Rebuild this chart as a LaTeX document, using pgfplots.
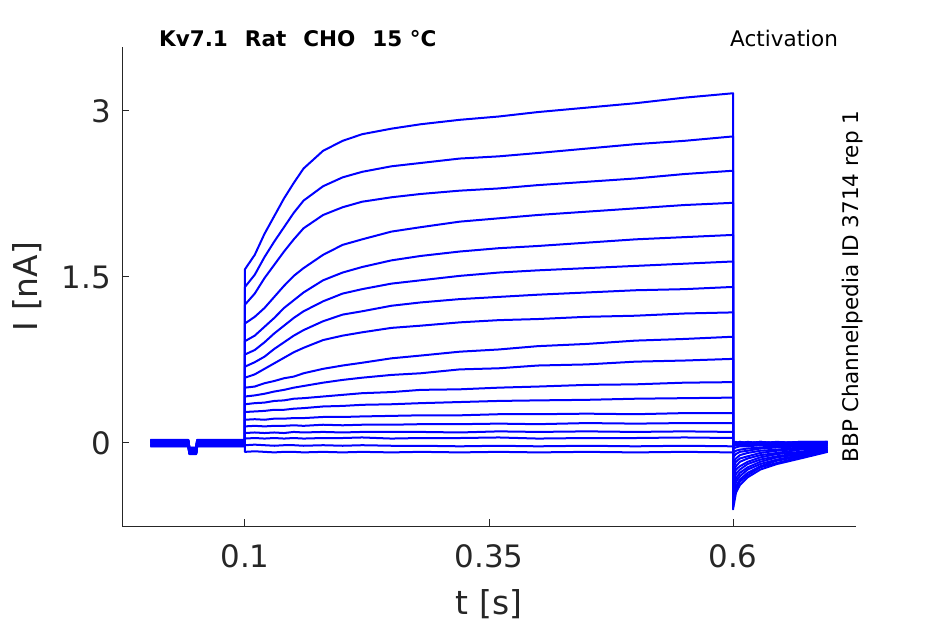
\documentclass[border=0pt]{standalone}
\usepackage{fontspec}
\setmainfont{DejaVu Sans}
\usepackage{pgfplots}
\usepackage{pgfplotstable}
\pgfplotsset{compat=1.18}
\definecolor{axgray}{RGB}{38,38,38}
\definecolor{trblue}{RGB}{0,0,255}

\pgfplotstableread{
t c1 c2 c3 c4 c5 c6 c7 c8 c9 c10 c11 c12 c13 c14 c15 c16 c17 c18
0.003 0.024 -0.020 0.010 -0.028 0.018 -0.008 0.028 -0.024 0.004 -0.014 0.022 -0.030 0.012 -0.004 0.026 -0.018 0.006 -0.022
0.042 0.024 -0.020 0.010 -0.028 0.018 -0.008 0.028 -0.024 0.004 -0.014 0.022 -0.030 0.012 -0.004 0.026 -0.018 0.006 -0.022
0.043 -0.046 -0.090 -0.060 -0.098 -0.052 -0.078 -0.042 -0.094 -0.066 -0.084 -0.048 -0.100 -0.058 -0.074 -0.044 -0.088 -0.064 -0.092
0.050 -0.046 -0.090 -0.060 -0.098 -0.052 -0.078 -0.042 -0.094 -0.066 -0.084 -0.048 -0.100 -0.058 -0.074 -0.044 -0.088 -0.064 -0.092
0.051 0.024 -0.020 0.010 -0.028 0.018 -0.008 0.028 -0.024 0.004 -0.014 0.022 -0.030 0.012 -0.004 0.026 -0.018 0.006 -0.022
0.100 0.024 -0.020 0.010 -0.028 0.018 -0.008 0.028 -0.024 0.004 -0.014 0.022 -0.030 0.012 -0.004 0.026 -0.018 0.006 -0.022
0.100 1.57 1.41 1.25 1.08 0.92 0.80 0.69 0.59 0.50 0.42 0.35 0.28 0.21 0.15 0.09 0.04 -0.02 -0.08
0.11 1.70 1.52 1.35 1.14 0.97 0.84 0.73 0.62 0.51 0.43 0.36 0.285 0.215 0.155 0.095 0.045 -0.015 -0.075
0.12 1.89 1.68 1.49 1.22 1.05 0.91 0.78 0.67 0.54 0.445 0.365 0.29 0.21 0.15 0.09 0.04 -0.02 -0.08
0.13 2.05 1.82 1.61 1.32 1.13 0.99 0.85 0.72 0.56 0.465 0.38 0.30 0.22 0.155 0.095 0.045 -0.025 -0.085
0.14 2.21 1.95 1.73 1.42 1.22 1.06 0.91 0.77 0.585 0.48 0.385 0.30 0.22 0.155 0.09 0.04 -0.02 -0.08
0.15 2.35 2.08 1.84 1.51 1.29 1.13 0.97 0.82 0.60 0.50 0.40 0.31 0.225 0.16 0.10 0.045 -0.02 -0.08
0.16 2.48 2.19 1.94 1.58 1.36 1.19 1.02 0.86 0.63 0.515 0.405 0.315 0.225 0.155 0.095 0.04 -0.025 -0.085
0.18 2.64 2.32 2.06 1.70 1.47 1.28 1.10 0.93 0.67 0.545 0.42 0.33 0.235 0.165 0.10 0.045 -0.02 -0.08
0.20 2.73 2.40 2.13 1.79 1.54 1.35 1.16 0.97 0.70 0.57 0.435 0.335 0.235 0.16 0.095 0.045 -0.025 -0.085
0.22 2.79 2.45 2.18 1.84 1.59 1.39 1.19 1.00 0.725 0.59 0.45 0.345 0.24 0.165 0.10 0.05 -0.02 -0.08
0.25 2.84 2.50 2.22 1.91 1.65 1.44 1.24 1.04 0.765 0.615 0.46 0.35 0.245 0.165 0.10 0.04 -0.025 -0.085
0.28 2.88 2.53 2.25 1.95 1.69 1.47 1.27 1.06 0.79 0.63 0.48 0.36 0.25 0.17 0.10 0.045 -0.025 -0.08
0.32 2.92 2.57 2.28 2.00 1.73 1.51 1.30 1.09 0.825 0.665 0.485 0.37 0.25 0.17 0.095 0.045 -0.03 -0.085
0.36 2.95 2.59 2.30 2.03 1.76 1.54 1.32 1.11 0.845 0.675 0.50 0.38 0.26 0.175 0.105 0.05 -0.025 -0.08
0.40 2.99 2.62 2.33 2.06 1.78 1.56 1.34 1.12 0.875 0.70 0.51 0.385 0.26 0.17 0.10 0.04 -0.03 -0.085
0.45 3.03 2.66 2.36 2.09 1.81 1.58 1.36 1.14 0.895 0.71 0.525 0.39 0.265 0.18 0.105 0.045 -0.025 -0.08
0.50 3.07 2.70 2.39 2.12 1.84 1.60 1.38 1.15 0.925 0.735 0.53 0.40 0.26 0.175 0.10 0.045 -0.03 -0.085
0.55 3.12 2.73 2.43 2.15 1.86 1.62 1.39 1.17 0.94 0.745 0.545 0.405 0.27 0.18 0.105 0.05 -0.025 -0.08
0.60 3.16 2.77 2.46 2.17 1.88 1.64 1.41 1.18 0.96 0.76 0.55 0.41 0.27 0.18 0.10 0.045 -0.03 -0.085
0.60 -0.60 -0.56 -0.52 -0.47 -0.42 -0.37 -0.32 -0.28 -0.23 -0.18 -0.13 -0.09 -0.05 -0.03 -0.01 0.00 0.01 0.00
0.603 -0.45 -0.42 -0.39 -0.35 -0.32 -0.28 -0.24 -0.21 -0.17 -0.14 -0.10 -0.07 -0.04 -0.02 -0.01 -0.01 0.00 0.01
0.607 -0.38 -0.35 -0.33 -0.30 -0.27 -0.24 -0.21 -0.17 -0.14 -0.11 -0.08 -0.06 -0.03 -0.02 0.00 0.01 0.01 0.00
0.615 -0.31 -0.29 -0.27 -0.24 -0.22 -0.19 -0.17 -0.14 -0.12 -0.09 -0.07 -0.05 -0.03 -0.02 -0.01 0.00 0.00 0.01
0.628 -0.24 -0.22 -0.21 -0.19 -0.17 -0.15 -0.13 -0.11 -0.09 -0.07 -0.05 -0.04 -0.02 -0.01 0.00 0.01 0.01 0.00
0.645 -0.19 -0.18 -0.16 -0.15 -0.13 -0.12 -0.10 -0.09 -0.07 -0.06 -0.04 -0.03 -0.02 -0.01 -0.01 0.00 0.00 0.01
0.669 -0.14 -0.13 -0.12 -0.11 -0.10 -0.09 -0.08 -0.06 -0.05 -0.04 -0.03 -0.02 -0.01 -0.01 0.00 0.01 0.01 0.00
0.697 -0.08 -0.07 -0.07 -0.06 -0.06 -0.05 -0.04 -0.04 -0.03 -0.02 -0.02 -0.01 0.00 0.00 0.00 0.01 0.01 0.01
}\traces

\begin{document}
\begin{tikzpicture}
\begin{axis}[name=ax, scale only axis, width=367bp, height=239.5bp,
  xmin=-0.026, xmax=0.726, ymin=-0.75, ymax=3.578,
  axis x line*=bottom, axis y line*=left,
  axis line style={axgray, line width=0.5bp},
  xtick={0.1,0.35,0.6}, xticklabels={0.1,0.35,0.6},
  ytick={0,1.5,3}, yticklabels={0,1.5,3},
  tick align=inside, major tick length=3.5bp,
  tick style={axgray, line width=0.5bp},
  ticklabel style={font=\fontsize{15.5}{18}\selectfont, text=axgray},
  yticklabel style={xshift=-2bp},
  xticklabel style={yshift=-6bp},
  xlabel={t [s]}, ylabel={I [nA]},
  label style={font=\fontsize{16.5}{20}\selectfont, text=axgray},
  xlabel style={at={(axis description cs:0.5,-0.163)}, anchor=center},
  ylabel style={at={(axis description cs:-0.129,0.5)}, anchor=center},
  clip=false]
\pgfplotsinvokeforeach{1,...,18}{
  \addplot[trblue, line width=1bp, line join=round, mark=none] table[x=t, y=c#1] {\traces};
}
\node[anchor=base west, font=\bfseries\fontsize{10.8}{13}\selectfont, text=black]
  at (rel axis cs:0.041,1.002) {Kv7.1\hspace{8.5bp}Rat\hspace{8.5bp}CHO\hspace{8.5bp}15 °C};
\node[anchor=base east, font=\fontsize{10.8}{13}\selectfont, text=black]
  at (rel axis cs:0.985,1.0006) {Activation};
\node[anchor=base, rotate=90, font=\fontsize{10.8}{13}\selectfont, text=black]
  at (rel axis cs:1.003,0.5) {BBP Channelpedia ID 3714 rep 1};
\end{axis}
\pgfresetboundingbox
\path[use as bounding box] ([xshift=-61bp,yshift=-49bp]ax.south west) rectangle ([xshift=44.5bp,yshift=23.5bp]ax.north east);
\end{tikzpicture}
\end{document}
